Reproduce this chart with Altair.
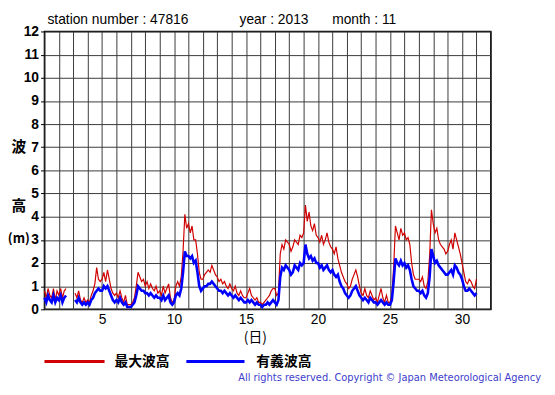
import altair as alt
import pandas as pd

# Wave heights (m), 3-hourly readings per day (00,03,...,21h); None = missing
max_wave_by_day = [
    [0.8, 0.5, 0.9, 0.6, 0.5, 0.9, 0.4, 0.8],
    [0.6, 0.9, 0.5, 0.8, 0.9, None, None, None],
    [None, 0.7, 0.5, 0.8, 0.4, 0.3, 0.5, 0.3],
    [0.4, 0.3, 0.6, 0.8, 1.1, 1.8, 1.3, 1.2],
    [1.3, 1.6, 1.2, 1.7, 1.3, 0.9, 0.7, 0.6],
    [0.7, 0.5, 0.8, 0.5, 0.3, 0.6, 0.2, 0.2],
    [0.2, 0.3, 0.5, 1.0, 1.6, 1.4, 1.2, 1.3],
    [1.0, 1.2, 0.9, 1.1, 0.9, 0.8, 1.0, 0.7],
    [0.8, 0.6, 1.0, 0.7, 0.9, 1.1, 0.5, 0.3],
    [0.4, 1.0, 1.2, 1.0, 1.4, 2.5, 4.1, 3.5],
    [3.7, 3.3, 3.6, 3.0, 3.0, 2.4, 1.6, 1.3],
    [1.3, 1.5, 1.6, 1.7, 1.6, 1.9, 1.7, 1.5],
    [1.4, 1.2, 1.3, 1.1, 1.2, 1.0, 0.9, 1.1],
    [0.9, 0.8, 1.0, 0.7, 0.6, 0.8, 0.6, 0.5],
    [0.5, 0.7, 0.9, 0.6, 0.5, 0.4, 0.5, 0.3],
    [0.3, 0.2, 0.3, 0.4, 0.5, 0.6, 0.8, 0.9],
    [0.9, 0.6, 0.7, 2.4, 2.8, 2.6, 3.0, 2.9],
    [2.8, 2.5, 2.7, 3.0, 2.9, 2.8, 3.2, 3.1],
    [3.3, 4.5, 3.8, 4.2, 3.6, 3.4, 3.7, 3.2],
    [3.1, 2.9, 3.2, 2.8, 3.0, 3.3, 2.9, 2.7],
    [2.6, 2.4, 2.7, 2.2, 1.9, 1.6, 1.4, 1.2],
    [1.1, 0.9, 1.0, 1.3, 1.5, 1.7, 1.4, 1.0],
    [0.7, 0.6, 0.9, 0.6, 0.5, 0.8, 0.6, 0.4],
    [0.5, 0.3, 0.6, 0.9, 0.5, 0.3, 0.6, 0.3],
    [0.3, 0.6, 1.8, 3.6, 3.3, 3.0, 3.5, 3.2],
    [3.3, 3.0, 3.1, 2.8, 2.0, 1.5, 1.3, 1.3],
    [1.3, 1.2, 1.4, 1.0, 0.9, 1.2, 2.3, 4.3],
    [3.7, 3.3, 3.5, 3.0, 2.8, 2.7, 2.6, 2.4],
    [2.5, 2.8, 3.0, 2.6, 3.3, 3.0, 2.7, 2.4],
    [2.0, 1.6, 1.2, 1.1, 1.3, 1.2, 1.0, 0.9],
    [1.3],
]

sig_wave_by_day = [
    [0.5, 0.3, 0.6, 0.4, 0.3, 0.6, 0.3, 0.5],
    [0.4, 0.6, 0.3, 0.5, 0.6, None, None, None],
    [None, 0.4, 0.3, 0.5, 0.3, 0.2, 0.3, 0.2],
    [0.3, 0.2, 0.4, 0.5, 0.7, 0.8, 0.9, 0.8],
    [0.8, 1.0, 0.9, 1.0, 0.8, 0.6, 0.4, 0.3],
    [0.4, 0.3, 0.5, 0.3, 0.2, 0.3, 0.1, 0.1],
    [0.1, 0.2, 0.3, 0.6, 1.0, 0.9, 0.8, 0.8],
    [0.7, 0.7, 0.6, 0.7, 0.6, 0.5, 0.6, 0.5],
    [0.5, 0.4, 0.6, 0.4, 0.5, 0.6, 0.3, 0.2],
    [0.3, 0.6, 0.7, 0.6, 0.9, 1.6, 2.5, 2.3],
    [2.3, 2.2, 2.3, 2.0, 2.1, 1.6, 1.0, 0.8],
    [0.9, 1.0, 1.0, 1.1, 1.1, 1.2, 1.1, 1.0],
    [0.9, 0.8, 0.8, 0.7, 0.8, 0.7, 0.6, 0.7],
    [0.6, 0.5, 0.6, 0.5, 0.4, 0.5, 0.4, 0.3],
    [0.3, 0.4, 0.3, 0.4, 0.3, 0.2, 0.3, 0.2],
    [0.2, 0.1, 0.2, 0.2, 0.3, 0.2, 0.3, 0.4],
    [0.3, 0.2, 0.4, 1.4, 1.8, 1.7, 1.9, 1.8],
    [1.7, 1.5, 1.6, 1.9, 1.8, 1.7, 2.0, 1.9],
    [2.0, 2.8, 2.4, 2.2, 2.3, 2.1, 2.2, 2.0],
    [2.0, 1.8, 1.9, 1.7, 1.8, 1.9, 1.7, 1.6],
    [1.7, 1.5, 1.4, 1.5, 1.2, 1.0, 0.9, 0.7],
    [0.6, 0.5, 0.6, 0.8, 0.9, 1.0, 0.8, 0.6],
    [0.5, 0.4, 0.5, 0.4, 0.3, 0.5, 0.4, 0.3],
    [0.3, 0.2, 0.3, 0.4, 0.3, 0.2, 0.3, 0.2],
    [0.2, 0.4, 1.2, 2.2, 2.0, 1.9, 2.1, 1.9],
    [2.0, 1.8, 1.9, 1.7, 1.3, 1.0, 0.9, 0.8],
    [0.8, 0.7, 0.8, 0.6, 0.5, 0.7, 1.4, 2.6],
    [2.3, 2.0, 2.1, 1.9, 1.8, 1.7, 1.6, 1.5],
    [1.5, 1.6, 1.7, 1.5, 1.9, 1.8, 1.6, 1.5],
    [1.3, 1.0, 0.8, 0.8, 0.9, 0.8, 0.7, 0.6],
    [0.7],
]

x_label_days = [5, 10, 15, 20, 25, 30]
y_ticks = list(range(0, 13))
series_names = ["最大波高", "有義波高"]
series_colors = ["#d00000", "#0000ff"]
title_parts = ["station number : 47816", "year : 2013", "month : 11"]
copyright_text = "All rights reserved. Copyright © Japan Meteorological Agency"

rows = []
for name, by_day in zip(series_names, [max_wave_by_day, sig_wave_by_day]):
    seg = 0
    for d, day_vals in enumerate(by_day):
        for h, v in enumerate(day_vals):
            if v is None:
                seg += 1
                continue
            rows.append({"t": 1 + d + h / 8, "v": v, "series": name, "seg": seg})
df = pd.DataFrame(rows)

LAT = "Liberation Sans"
CJK = "Noto Sans CJK JP"

x_enc = alt.X(
    "t:Q",
    scale=alt.Scale(domain=[1, 32], nice=False, zero=False),
    axis=alt.Axis(
        values=list(range(1, 33)),
        labelExpr="datum.value % 5 == 0 ? datum.label : ''",
        labelOverlap=False,
        grid=True,
        ticks=False,
        domain=False,
        title=None,
        labelFontSize=14,
        labelFont=LAT,
        labelColor="#000",
        labelPadding=3,
    ),
)
y_enc = alt.Y(
    "v:Q",
    scale=alt.Scale(domain=[0, 12], nice=False),
    axis=alt.Axis(
        values=y_ticks,
        grid=True,
        ticks=True,
        tickSize=4,
        tickColor="#000",
        domain=False,
        title=None,
        labelFontSize=14,
        labelFontWeight="bold",
        labelFont=LAT,
        labelColor="#000",
        labelPadding=2,
    ),
)

base = alt.Chart(df)
red = base.transform_filter(alt.datum.series == series_names[0]).mark_line(
    color=series_colors[0], strokeWidth=1.2
).encode(x=x_enc, y=y_enc, detail="seg:N")
blue = base.transform_filter(alt.datum.series == series_names[1]).mark_line(
    color=series_colors[1], strokeWidth=2.6
).encode(x=x_enc, y=y_enc, detail="seg:N")


def label(text, x, y, size=14, weight="normal", font=LAT, color="#000",
          align="left", baseline="middle"):
    return alt.Chart(pd.DataFrame({"label": [text]})).mark_text(
        align=align, baseline=baseline, fontSize=size, fontWeight=weight,
        font=font, color=color,
    ).encode(text="label:N", x=alt.value(x), y=alt.value(y))


texts = [
    label(title_parts[0], 3, -12, size=14),
    label(title_parts[1], 198, -12, size=14),
    label(title_parts[2], 292, -12, size=14),
    label("波", -26, 117, size=15, weight="bold", font=CJK, align="center"),
    label("高", -26, 177, size=15, weight="bold", font=CJK, align="center"),
    label("(m)", -26, 211, size=13, weight="bold", font=CJK, align="center"),
    label("(日)", 214, 311, size=14, font=CJK, align="center"),
    label(series_names[0], 71, 335, size=14, weight="bold", font=CJK),
    label(series_names[1], 215, 335, size=14, weight="bold", font=CJK),
    label(copyright_text, 504, 355, size=10, font="DejaVu Sans", color="#4040cc",
          align="right", baseline="alphabetic"),
]

legend_lines = [
    alt.Chart(pd.DataFrame({"k": [0]})).mark_rule(color=series_colors[0], strokeWidth=3).encode(
        x=alt.value(0), x2=alt.value(61), y=alt.value(335)
    ),
    alt.Chart(pd.DataFrame({"k": [0]})).mark_rule(color=series_colors[1], strokeWidth=3).encode(
        x=alt.value(144), x2=alt.value(203), y=alt.value(335)
    ),
]

chart = alt.layer(red, blue, *legend_lines, *texts).properties(
    width=453,
    height=282,
    autosize=alt.AutoSizeParams(type="none"),
    padding={"left": 37, "top": 21, "right": 57, "bottom": 76},
    background="white",
).configure_view(
    stroke="#000", strokeWidth=1.5
).configure_axis(
    gridColor="#3a3a3a", gridWidth=1, gridOpacity=1
)

chart.save("out.html", embed_options={"renderer": "svg", "actions": False})
